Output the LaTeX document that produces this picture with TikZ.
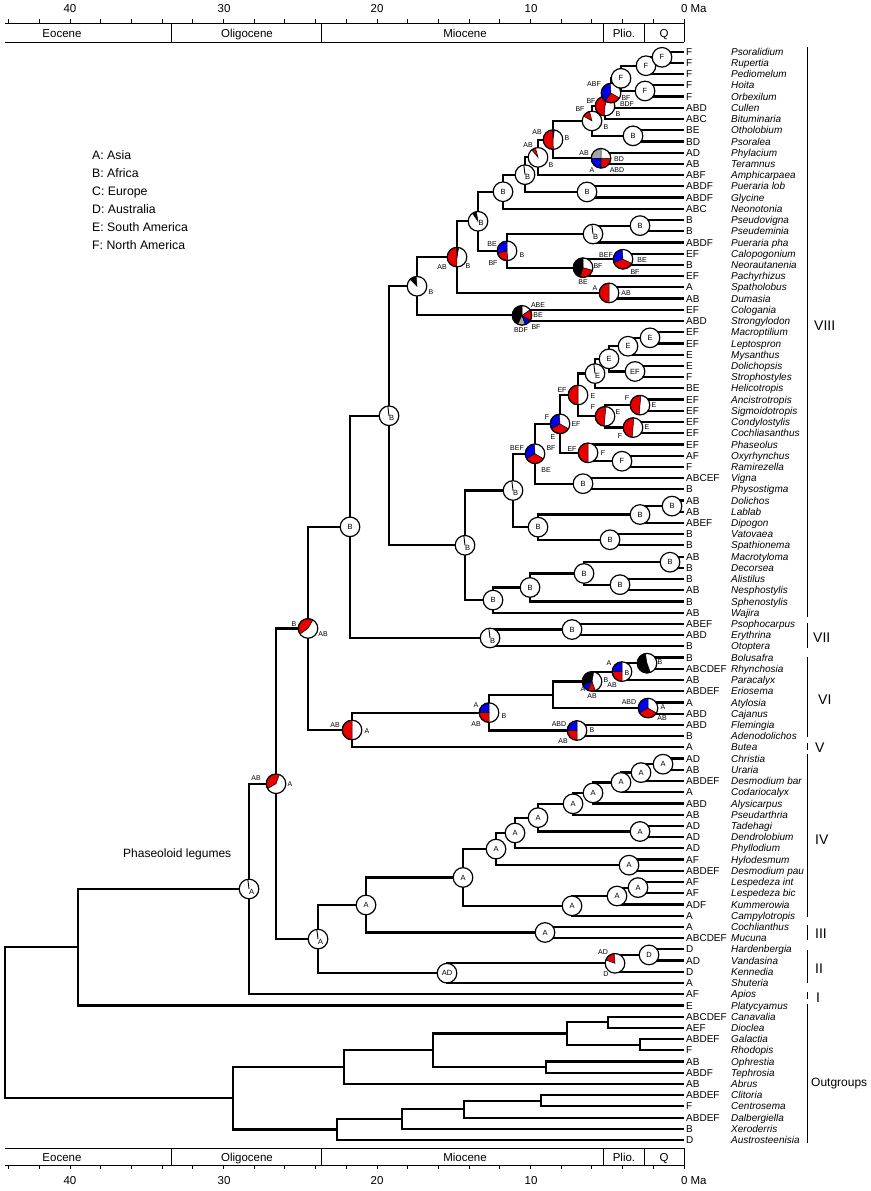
\documentclass[tikz,border=0pt]{standalone}
\usepackage{fontspec}
\setmainfont{Liberation Sans}
\usetikzlibrary{calc}
\definecolor{pred}{RGB}{232,0,0}
\definecolor{pblue}{RGB}{0,0,235}
\definecolor{pgrey}{RGB}{165,165,165}
\tikzset{
  br/.style={line width=2.2pt,line join=miter},
  axl/.style={line width=1pt},
  cl/.style={line width=1.2pt},
  ct/.style={font=\fontsize{7.5}{8}\selectfont,inner sep=0pt},
  pl/.style={font=\fontsize{7}{8}\selectfont,inner sep=0pt},
  area/.style={font=\fontsize{10}{12}\selectfont,anchor=base west,inner sep=0pt},
  taxon/.style={font=\fontsize{10}{12}\selectfont\itshape,anchor=base west,inner sep=0pt},
  lg/.style={font=\fontsize{12.3}{14}\selectfont,anchor=base west,inner sep=0pt},
  ax/.style={font=\fontsize{11.5}{13}\selectfont,anchor=base,inner sep=0pt},
  clade/.style={font=\fontsize{14}{16}\selectfont,anchor=base west,inner sep=0pt},
  cladebar/.style={line width=1.8pt},
  slice/.style={draw=black,line width=0.5pt},
}
\newcommand\PR{9.8pt}
\newcommand\mknode[4]{\path let \p1=(#3),\p2=(#4) in coordinate (#1) at (#2pt,{(\y1+\y2)/2});
  \draw[br] (#3) -| (#1) |- (#4);}
\newcommand\plainnode[2]{\fill[white] (#1) circle (\PR);\draw[cl] (#1) circle (\PR);\node[ct] at (#1) {#2};}
\newcommand\ticknode[2]{\fill[white] (#1) circle (\PR);\draw[line width=0.9pt] (#1) -- ++(97:\PR);\draw[cl] (#1) circle (\PR);\node[ct] at ($(#1)+(2.5,2.5)$) {#2};}
\newcommand\pienode[2]{\fill[white] (#1) circle (\PR);
  \foreach \pa/\pb/\pc in {#2}{\filldraw[slice,fill=\pc] (#1) -- ++(\pa:\PR) arc[start angle=\pa,end angle=\pb,radius=\PR] -- cycle;}
  \draw[cl] (#1) circle (\PR);}
\newcommand\plab[4]{\node[pl] at ($(#1)+(#2,#3)$) {#4};}

\begin{document}
\begin{tikzpicture}[x=1pt,y=-1pt]
\useasboundingbox[fill=white] (0,0) rectangle (870,1191);

% ---------- tips ----------
\foreach \ar/\sp [count=\i] in {F/Psoralidium,F/Rupertia,F/Pediomelum,F/Hoita,F/Orbexilum,ABD/Cullen,ABC/Bituminaria,BE/Otholobium,BD/Psoralea,AD/Phylacium,AB/Teramnus,ABF/Amphicarpaea,ABDF/Pueraria lob,ABDF/Glycine,ABC/Neonotonia,B/Pseudovigna,B/Pseudeminia,ABDF/Pueraria pha,EF/Calopogonium,B/Neorautanenia,EF/Pachyrhizus,A/Spatholobus,AB/Dumasia,EF/Cologania,ABD/Strongylodon,EF/Macroptilium,EF/Leptospron,E/Mysanthus,E/Dolichopsis,F/Strophostyles,BE/Helicotropis,EF/Ancistrotropis,EF/Sigmoidotropis,EF/Condylostylis,EF/Cochliasanthus,EF/Phaseolus,AF/Oxyrhynchus,F/Ramirezella,ABCEF/Vigna,B/Physostigma,AB/Dolichos,AB/Lablab,ABEF/Dipogon,B/Vatovaea,B/Spathionema,AB/Macrotyloma,B/Decorsea,B/Alistilus,AB/Nesphostylis,B/Sphenostylis,AB/Wajira,ABEF/Psophocarpus,ABD/Erythrina,B/Otoptera,B/Bolusafra,ABCDEF/Rhynchosia,AB/Paracalyx,ABDEF/Eriosema,A/Atylosia,ABD/Cajanus,ABD/Flemingia,B/Adenodolichos,A/Butea,AD/Christia,AB/Uraria,ABDEF/Desmodium bar,A/Codariocalyx,ABD/Alysicarpus,AB/Pseudarthria,AD/Tadehagi,AD/Dendrolobium,AD/Phyllodium,AF/Hylodesmum,ABDEF/Desmodium pau,AF/Lespedeza int,AF/Lespedeza bic,ADF/Kummerowia,A/Campylotropis,A/Cochlianthus,ABCDEF/Mucuna,D/Hardenbergia,AD/Vandasina,D/Kennedia,A/Shuteria,AF/Apios,E/Platycyamus,ABCDEF/Canavalia,AEF/Dioclea,ABDEF/Galactia,F/Rhodopis,AB/Ophrestia,ABDF/Tephrosia,AB/Abrus,ABDEF/Clitoria,F/Centrosema,ABDEF/Dalbergiella,B/Xeroderris,D/Austrosteenisia}{
  \pgfmathsetmacro\ty{51.7+(\i-1)*11.22}
  \coordinate (t\i) at (684,\ty);
  \node[area] (a\i) at (686,\ty+3.6) {\ar};
  \node[taxon] (s\i) at (731,\ty+3.6) {\sp};
}

% ---------- branches (children before parents) ----------
\mknode{n1}{662}{t1}{t2}
\mknode{n2}{646}{n1}{t3}
\mknode{n3}{645}{t4}{t5}
\mknode{n4}{621}{n2}{n3}
\mknode{n5}{611}{n4}{t6}
\mknode{n6}{605}{n5}{t7}
\mknode{n7}{633}{t8}{t9}
\mknode{n8}{592}{n6}{n7}
\mknode{n9}{601}{t10}{t11}
\mknode{n10}{553}{n8}{n9}
\mknode{n11}{538}{n10}{t12}
\mknode{n12}{587}{t13}{t14}
\mknode{n13}{525}{n11}{n12}
\mknode{n14}{503}{n13}{t15}
\mknode{n15}{640}{t16}{t17}
\mknode{n16}{593}{n15}{t18}
\mknode{n17}{623}{t19}{t20}
\mknode{n18}{583}{n17}{t21}
\mknode{n19}{507}{n16}{n18}
\mknode{n20}{478}{n14}{n19}
\mknode{n21}{609}{t22}{t23}
\mknode{n22}{457}{n20}{n21}
\mknode{n23}{522}{t24}{t25}
\mknode{n24}{417}{n22}{n23}
\mknode{p1}{650}{t26}{t27}
\mknode{p2}{628}{p1}{t28}
\mknode{p3}{635}{t29}{t30}
\mknode{p4}{609}{p2}{p3}
\mknode{p5}{595}{p4}{t31}
\mknode{p6}{640}{t32}{t33}
\mknode{p7}{633}{t34}{t35}
\mknode{p8}{605}{p6}{p7}
\mknode{p9}{578}{p5}{p8}
\mknode{p10}{622}{t37}{t38}
\mknode{p11}{588}{t36}{p10}
\mknode{p12}{560}{p9}{p11}
\mknode{p13}{583}{t39}{t40}
\mknode{p14}{535}{p12}{p13}
\mknode{p15}{672}{t41}{t42}
\mknode{p16}{640}{p15}{t43}
\mknode{p17}{610}{t44}{t45}
\mknode{p18}{538}{p16}{p17}
\mknode{p19}{513}{p14}{p18}
\mknode{p20}{670}{t46}{t47}
\mknode{p21}{620}{t48}{t49}
\mknode{p22}{584}{p20}{p21}
\mknode{p23}{530}{p22}{t50}
\mknode{p24}{493}{p23}{t51}
\mknode{p25}{465}{p19}{p24}
\mknode{n25}{389}{n24}{p25}
\mknode{v1}{572}{t52}{t53}
\mknode{v2}{490}{v1}{t54}
\mknode{n26}{350}{n25}{v2}
\mknode{r1}{647}{t55}{t56}
\mknode{r2}{622}{r1}{t57}
\mknode{r3}{592}{r2}{t58}
\mknode{r4}{648}{t59}{t60}
\mknode{r5}{553}{r3}{r4}
\mknode{r6}{577}{t61}{t62}
\mknode{r7}{489}{r5}{r6}
\mknode{r8}{352}{r7}{t63}
\mknode{n27}{308}{n26}{r8}
\mknode{d1}{663}{t64}{t65}
\mknode{d2}{641}{d1}{t66}
\mknode{d3}{621}{d2}{t67}
\mknode{d4}{593}{d3}{t68}
\mknode{d5}{573}{d4}{t69}
\mknode{d6}{640}{t70}{t71}
\mknode{d7}{538}{d5}{d6}
\mknode{d8}{515}{d7}{t72}
\mknode{d9}{629}{t73}{t74}
\mknode{d10}{496}{d8}{d9}
\mknode{d11}{638}{t75}{t76}
\mknode{d12}{617}{d11}{t77}
\mknode{d13}{572}{d12}{t78}
\mknode{d14}{463}{d10}{d13}
\mknode{c1}{545}{t79}{t80}
\mknode{d15}{366}{d14}{c1}
\mknode{k1}{649}{t81}{t82}
\mknode{k2}{615}{k1}{t83}
\mknode{k3}{447}{k2}{t84}
\mknode{d16}{318}{d15}{k3}
\mknode{n28}{276}{n27}{d16}
\mknode{n29}{249}{n28}{t85}
\mknode{n30}{78}{n29}{t86}
\mknode{o1}{608}{t87}{t88}
\mknode{o2}{640}{t89}{t90}
\mknode{o3}{567}{o1}{o2}
\mknode{o4}{546}{t91}{t92}
\mknode{o5}{433}{o3}{o4}
\mknode{o6}{344}{o5}{t93}
\mknode{o7}{541}{t94}{t95}
\mknode{o8}{464}{o7}{t96}
\mknode{o9}{402}{o8}{t97}
\mknode{o10}{337}{o9}{t98}
\mknode{o11}{233}{o6}{o10}
\mknode{root}{5}{n30}{o11}

% ---------- ancestral range pies (root to tips) ----------
\ticknode{n29}{A}
\pienode{n28}{70/210/pred}
\plab{n28}{-20}{-6}{AB}\plab{n28}{14}{0}{A}
\pienode{n27}{60/215/pred}
\plab{n27}{-14}{-4}{B}\plab{n27}{15}{6}{AB}
\plainnode{n26}{B}
\ticknode{n25}{B}
\pienode{n24}{95/135/black}
\plab{n24}{14}{6}{B}
\pienode{n22}{80/93/black,93/268/pred}
\plab{n22}{-15}{10}{AB}\plab{n22}{11}{9}{B}
\pienode{n20}{100/125/black}
\node[ct] at ($(n20)+(3,2)$) {B};
\plainnode{n14}{B}
\ticknode{n13}{B}
\plainnode{n12}{B}
\pienode{n11}{105/130/pred}
\plab{n11}{-10}{-12}{AB}\plab{n11}{13}{8}{B}
\pienode{n10}{82/92/pblue,92/272/pred}
\plab{n10}{-16}{-8}{AB}\plab{n10}{14}{-2}{B}
\pienode{n9}{90/180/pgrey,180/270/pblue,270/360/pred}
\plab{n9}{-17}{-5}{AB}\plab{n9}{18}{1}{BD}\plab{n9}{-9}{12}{A}\plab{n9}{16}{12}{ABD}
\pienode{n8}{105/150/pred}
\plab{n8}{-12}{-12}{BF}\plab{n8}{14}{6}{B}
\plainnode{n7}{B}
\pienode{n6}{75/265/pred}
\plab{n6}{-14}{-5}{BF}\plab{n6}{13}{8}{B}
\pienode{n5}{95/235/pblue,235/330/pred}
\plab{n5}{-17}{-9}{ABF}\plab{n5}{15}{5}{BF}\plab{n5}{16}{11}{BDF}
\plainnode{n4}{F}
\plainnode{n3}{F}
\plainnode{n2}{F}
\plainnode{n1}{F}
\pienode{n19}{90/195/pblue,195/275/pred}
\plab{n19}{-15}{-7}{BE}\plab{n19}{-14}{12}{BF}\plab{n19}{15}{4}{B}
\ticknode{n16}{B}
\plainnode{n15}{B}
\pienode{n18}{90/255/black,255/345/pred}
\plab{n18}{15}{-2}{BF}\plab{n18}{0}{14}{BE}
\pienode{n17}{95/200/pblue,200/335/pred}
\plab{n17}{-17}{-4}{BEF}\plab{n17}{19}{1}{BE}\plab{n17}{12}{13}{BF}
\pienode{n21}{90/270/pred}
\plab{n21}{-14}{-5}{A}\plab{n21}{17}{0}{AB}
\pienode{n23}{90/245/black,245/290/pgrey,290/330/pblue,330/395/pred}
\plab{n23}{16}{-10}{ABE}\plab{n23}{16}{0}{BE}\plab{n23}{14}{12}{BF}\plab{n23}{-1}{15}{BDF}
\ticknode{p25}{B}
\ticknode{p19}{B}
\pienode{p14}{95/210/pblue,210/330/pred}
\plab{p14}{-18}{-6}{BEF}\plab{p14}{16}{-6}{BF}\plab{p14}{11}{16}{BE}
\pienode{p12}{95/210/pblue,210/330/pred}
\plab{p12}{-13}{-7}{F}\plab{p12}{16}{0}{EF}\plab{p12}{-7}{13}{E}
\pienode{p9}{90/270/pred}
\plab{p9}{-16}{-5}{EF}\plab{p9}{15}{1}{E}
\ticknode{p5}{E}
\plainnode{p4}{E}
\plainnode{p2}{E}
\plainnode{p1}{E}
\plainnode{p3}{EF}
\pienode{p8}{85/265/pred}
\plab{p8}{-12}{-9}{F}\plab{p8}{13}{-4}{E}
\pienode{p6}{85/265/pred}
\plab{p6}{-13}{-7}{F}\plab{p6}{14}{0}{E}
\pienode{p7}{85/265/pred}
\plab{p7}{-13}{9}{F}\plab{p7}{14}{0}{E}
\pienode{p11}{90/270/pred}
\plab{p11}{-16}{-4}{EF}\plab{p11}{15}{0}{F}
\plainnode{p10}{F}
\plainnode{p13}{B}
\plainnode{p18}{B}
\plainnode{p16}{B}
\plainnode{p15}{B}
\plainnode{p17}{B}
\plainnode{p24}{B}
\plainnode{p23}{B}
\plainnode{p22}{B}
\plainnode{p20}{B}
\plainnode{p21}{B}
\ticknode{v2}{B}
\plainnode{v1}{B}
\pienode{r8}{90/270/pred}
\plab{r8}{-17}{-5}{AB}\plab{r8}{15}{1}{A}
\pienode{r7}{90/180/pblue,180/270/pred}
\plab{r7}{-13}{-8}{A}\plab{r7}{-13}{11}{AB}\plab{r7}{15}{3}{B}
\pienode{r3}{80/200/black,200/245/pblue,245/290/pred}
\plab{r3}{-9}{8}{A}\plab{r3}{0}{15}{AB}\plab{r3}{14}{-1}{B}
\pienode{r2}{90/180/pblue,180/270/pred}
\plab{r2}{-13}{-9}{A}\plab{r2}{5}{1}{B}\plab{r2}{-10}{13}{AB}
\pienode{r1}{100/290/black}
\plab{r1}{13}{-1}{B}
\pienode{r4}{90/210/pblue,210/330/pred}
\plab{r4}{-19}{-6}{ABD}\plab{r4}{15}{-1}{A}\plab{r4}{14}{10}{AB}
\pienode{r6}{90/180/pblue,180/270/pred}
\plab{r6}{-18}{-6}{ABD}\plab{r6}{-14}{11}{AB}\plab{r6}{15}{0}{B}
\ticknode{d16}{A}
\plainnode{d15}{A}
\plainnode{d14}{A}
\plainnode{d10}{A}
\plainnode{d8}{A}
\plainnode{d7}{A}
\plainnode{d5}{A}
\plainnode{d4}{A}
\plainnode{d3}{A}
\plainnode{d2}{A}
\plainnode{d1}{A}
\plainnode{d6}{A}
\plainnode{d9}{A}
\plainnode{d13}{A}
\plainnode{d12}{A}
\plainnode{d11}{A}
\plainnode{c1}{A}
\plainnode{k3}{AD}
\pienode{k2}{95/160/pred}
\plab{k2}{-12}{-11}{AD}\plab{k2}{-9}{11}{D}
\plainnode{k1}{D}

% ---------- clade bars ----------
\draw[cladebar] (807.5,47) -- (807.5,617);
\draw[cladebar] (807.5,623) -- (807.5,648);
\draw[cladebar] (807.5,657) -- (807.5,737);
\draw[cladebar] (807.5,743) -- (807.5,750);
\draw[cladebar] (807.5,754) -- (807.5,917);
\draw[cladebar] (807.5,925) -- (807.5,940);
\draw[cladebar] (807.5,950) -- (807.5,983);
\draw[cladebar] (807.5,992) -- (807.5,999);
\draw[cladebar] (807.5,1004) -- (807.5,1143);
\node[clade] (gVIII) at (814,330) {VIII};
\node[clade] (gVII) at (813,642) {VII};
\node[clade] (gVI) at (818,704) {VI};
\node[clade] (gV) at (815,752) {V};
\node[clade] (gIV) at (815,844) {IV};
\node[clade] (gIII) at (815,938) {III};
\node[clade] (gII) at (815,973) {II};
\node[clade] (gI) at (816,1002) {I};
\node[lg,font=\fontsize{12}{14}\selectfont] (gOut) at (811,1086) {Outgroups};

% ---------- legend ----------
\node[lg] (lA) at (92,159.5) {A: Asia};
\node[lg] (lB) at (92,177.5) {B: Africa};
\node[lg] (lC) at (92,195.5) {C: Europe};
\node[lg] (lD) at (92,213.5) {D: Australia};
\node[lg] (lE) at (92,231.5) {E: South America};
\node[lg] (lF) at (92,249.5) {F: North America};
\node[lg,font=\fontsize{12}{14}\selectfont] (phl) at (123,857.5) {Phaseoloid legumes};

% ---------- top time axis ----------
\draw[axl] (5,23) -- (684,23);
\draw[axl] (5,42) -- (684,42);
\foreach \x in {171,321,603,644,684} \draw[axl] (\x,23) -- (\x,42);
\foreach \k in {0,...,22} \draw[axl] ({684-\k*30.7},23) -- ++(0,-4);
\node[ax] (tx40) at (70,12.5) {40};
\node[ax] (tx30) at (224,12.5) {30};
\node[ax] (tx20) at (377,12.5) {20};
\node[ax] (tx10) at (531,12.5) {10};
\node[ax,anchor=base west] (tx0) at (680.8,12.5) {0 Ma};
\node[ax] (te1) at (62,37) {Eocene};
\node[ax] (te2) at (247,37) {Oligocene};
\node[ax] (te3) at (465,37) {Miocene};
\node[ax] (te4) at (624,37) {Plio.};
\node[ax] (te5) at (664,37) {Q};

% ---------- bottom time axis ----------
\draw[axl] (5,1148) -- (684,1148);
\draw[axl] (5,1165) -- (684,1165);
\foreach \x in {171,321,603,644,684} \draw[axl] (\x,1148) -- (\x,1165);
\foreach \k in {0,...,22} \draw[axl] ({684-\k*30.7},1165) -- ++(0,4);
\node[ax] (bx40) at (70,1184) {40};
\node[ax] (bx30) at (224,1184) {30};
\node[ax] (bx20) at (377,1184) {20};
\node[ax] (bx10) at (531,1184) {10};
\node[ax,anchor=base west] (bx0) at (680.8,1184) {0 Ma};
\node[ax] (be1) at (62,1161) {Eocene};
\node[ax] (be2) at (247,1161) {Oligocene};
\node[ax] (be3) at (465,1161) {Miocene};
\node[ax] (be4) at (624,1161) {Plio.};
\node[ax] (be5) at (664,1161) {Q};
\end{tikzpicture}
\end{document}
